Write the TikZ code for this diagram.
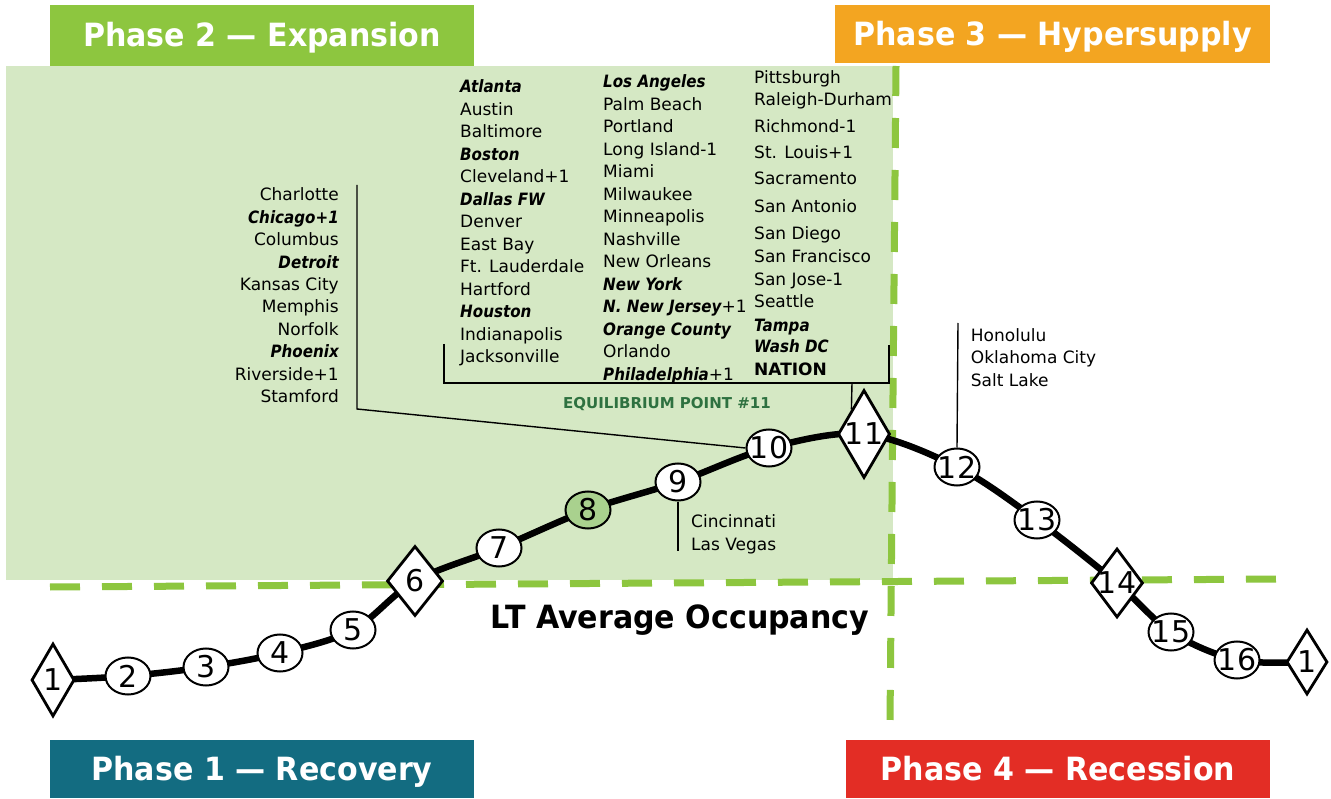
\documentclass[tikz,border=0pt]{standalone}
\usepackage{fontspec}
\setmainfont{DejaVu Sans}[BoldFont={DejaVu Sans Bold},ItalicFont={DejaVu Sans Oblique},BoldItalicFont={DejaVu Sans Bold Oblique}]
\newfontfamily\bifont{DejaVu Sans}[FakeStretch=0.89,BoldFont={DejaVu Sans Bold},ItalicFont={DejaVu Sans Oblique},BoldItalicFont={DejaVu Sans Bold Oblique}]
\newfontfamily\phasefont{DejaVu Sans}[FakeStretch=0.94,BoldFont={DejaVu Sans Bold}]
\usetikzlibrary{shapes.geometric,backgrounds}
\definecolor{bgreen}{HTML}{D5E8C4}
\definecolor{pgreen}{HTML}{8DC63F}
\definecolor{porange}{HTML}{F3A521}
\definecolor{pteal}{HTML}{136C81}
\definecolor{pred}{HTML}{E32D25}
\definecolor{eqgreen}{HTML}{2E7140}
\definecolor{eightfill}{HTML}{A9D18E}
\newcommand{\bic}[1]{{\bifont\bfseries\itshape #1}}
\tikzset{
  city/.style={anchor=base west, inner sep=0pt, font=\fontsize{17}{20}\selectfont},
  cityr/.style={city, anchor=base east},
  ell/.style={ellipse, draw, line width=2pt, fill=white, minimum width=45pt, minimum height=37pt, inner sep=0pt},
  dia/.style={diamond, draw, line width=2.8pt, fill=white, inner sep=0pt},
  num/.style={inner sep=0pt, font=\fontsize{30}{31}\selectfont},
  phase/.style={text=white, inner sep=0pt, font=\phasefont\bfseries\fontsize{32}{34}\selectfont, text height=23pt, text depth=0pt},
  dashline/.style={pgreen, line width=7pt, dash pattern=on 30pt off 22pt},
  lead/.style={line width=1.4pt},
  curve/.style={line width=6.5pt, line join=round}
}
\begin{document}
\begin{tikzpicture}[x=1pt,y=-1pt]
\useasboundingbox (0,0) rectangle (1331,799);
\begin{scope}[on background layer]
  \fill[white] (0,0) rectangle (1331,799);
  \fill[bgreen] (6,66) rectangle (893,580);
  \draw[dashline] (50,587) -- (1283,579);
  \draw[dashline] (896,66) -- (890,722);
\end{scope}

% phase boxes
\node[phase, fill=pgreen, minimum width=424pt, minimum height=61pt] (ph2) at (262,35.5) {Phase 2 — Expansion};
\node[phase, fill=porange, minimum width=435pt, minimum height=58pt] (ph3) at (1052.5,34) {Phase 3 — Hypersupply};
\node[phase, fill=pteal, minimum width=424pt, minimum height=58pt] (ph1) at (262,769) {Phase 1 — Recovery};
\node[phase, fill=pred, minimum width=424pt, minimum height=58pt] (ph4) at (1058,769) {Phase 4 — Recession};

% cycle nodes
\node[dia, minimum width=43pt, minimum height=73pt, label={[num]center:1}] (n1) at (53,680) {};
\node[ell, label={[num]center:2}] (n2) at (128,676) {};
\node[ell, label={[num]center:3}] (n3) at (206,667) {};
\node[ell, label={[num]center:4}] (n4) at (280,653) {};
\node[ell, label={[num]center:5}] (n5) at (353,630) {};
\node[dia, minimum width=56pt, minimum height=70pt, label={[num]center:6}] (n6) at (415,581) {};
\node[ell, label={[num]center:7}] (n7) at (499,548) {};
\node[ell, fill=eightfill, label={[num]center:8}] (n8) at (588,510) {};
\node[ell, label={[num]center:9}] (n9) at (678,482) {};
\node[ell, label={[num]center:10}] (n10) at (769,448) {};
\node[dia, minimum width=52pt, minimum height=88pt, label={[num]center:11}] (n11) at (864,434) {};
\node[ell, label={[num]center:12}] (n12) at (957,467) {};
\node[ell, label={[num]center:13}] (n13) at (1037,520) {};
\node[dia, minimum width=52pt, minimum height=69pt, label={[num]center:14}] (n14) at (1117,583) {};
\node[ell, label={[num]center:15}] (n15) at (1171,632) {};
\node[ell, label={[num]center:16}] (n16) at (1237,660) {};
\node[dia, minimum width=41pt, minimum height=65pt, label={[num]center:1}] (n17) at (1307,662) {};

\begin{scope}[on background layer]
  \draw[curve] plot[smooth, tension=0.55] coordinates {(n1.center) (n2.center) (n3.center) (n4.center) (n5.center) (n6.center) (n7.center) (n8.center) (n9.center) (n10.center) (n11.center) (n12.center) (n13.center) (n14.center) (n15.center) (n16.center) (n17.center)};
\end{scope}

% city columns
\foreach \t [count=\i from 0] in {Charlotte, {\bic{Chicago+1}}, Columbus, {\bic{Detroit}}, Kansas City, Memphis, Norfolk, {\bic{Phoenix}}, Riverside+1, Stamford}
  \node[cityr] (ca\i) at (339, 201+22.4*\i) {\t};
\foreach \t [count=\i from 0] in {{\bic{Atlanta}}, Austin, Baltimore, {\bic{Boston}}, Cleveland+1, {\bic{Dallas FW}}, Denver, East Bay, Ft. Lauderdale, Hartford, {\bic{Houston}}, Indianapolis, Jacksonville}
  \node[city] (cb\i) at (460, 93+22.5*\i) {\t};
\foreach \t [count=\i from 0] in {{\bic{Los Angeles}}, Palm Beach, Portland, Long Island-1, Miami, Milwaukee, Minneapolis, Nashville, New Orleans, {\bic{New York}}, {\bic{N. New Jersey}+1}, {\bic{Orange County}}, Orlando, {\bic{Philadelphia}+1}}
  \node[city] (cc\i) at (603, 88+22.5*\i) {\t};
\foreach \yy/\t [count=\i] in {84/Pittsburgh, 106/Raleigh-Durham, 133/Richmond-1, 159/St. Louis+1, 185/Sacramento, 213/San Antonio, 240/San Diego, 263/San Francisco, 286/San Jose-1, 308/Seattle, 332/{\bic{Tampa}}, 353/{\bic{Wash DC}}, 376/{\bfseries NATION}}
  \node[city] (cd\i) at (754, \yy) {\t};

\node[city] (hon1) at (970.7,342) {Honolulu};
\node[city] (hon2) at (970.7,364) {Oklahoma City};
\node[city] (hon3) at (970.7,387) {Salt Lake};
\node[city] (cin1) at (691,527.5) {Cincinnati};
\node[city] (cin2) at (691,550) {Las Vegas};

\node[anchor=base, inner sep=0pt, text=eqgreen, font=\bfseries\fontsize{15}{16}\selectfont] (eq) at (667,409) {EQUILIBRIUM POINT \#11};
\node[anchor=base, inner sep=0pt, font=\phasefont\bfseries\fontsize{32}{34}\selectfont] (lt) at (680,628) {LT Average Occupancy};

% leader lines
\coordinate (la1) at (357,185);
\coordinate (la2) at (357,409);
\draw[lead] (la1) -- (la2) -- (n10.west);
\coordinate (lb1) at (444,344);
\coordinate (lb2) at (444,383);
\coordinate (lb3) at (889,383);
\coordinate (lb4) at (889,345);
\draw[lead] (lb1) -- (lb2) -- (lb3) -- (lb4);
\path (n11.west) -- (n11.north) coordinate[pos=0.54] (n11e);
\coordinate (lb5) at (852,383);
\draw[lead] (lb5) -- (n11e);
\coordinate (lh) at (958,323);
\draw[lead] (lh) -- (n12.north);
\coordinate (lc) at (678,551);
\draw[lead] (n9.south) -- (lc);
\end{tikzpicture}
\end{document}
